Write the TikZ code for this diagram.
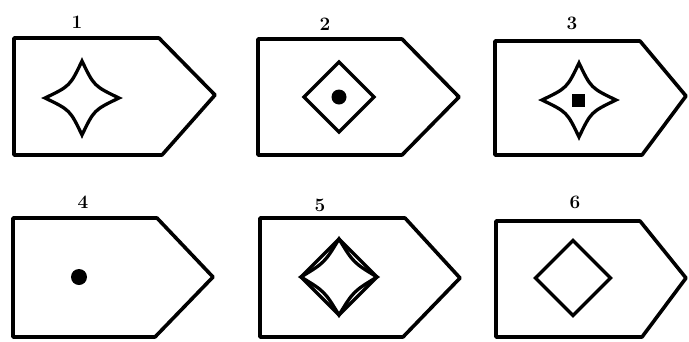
\documentclass[tikz,border=0pt]{standalone}
\usepackage{fontspec}
\begin{document}
\begin{tikzpicture}[x=1pt,y=-1pt,
  frame/.style={line width=3.6pt,line join=round,black},
  figline/.style={line width=3.3pt,black,miter limit=6},
  lbl/.style={font=\fontsize{19}{19}\selectfont\bfseries,inner sep=0pt}]
\useasboundingbox[fill=white] (0,0) rectangle (689,341);
% pentagon frames
\draw[frame] (14,38) -- (159,38) -- (215,95) -- (162,155) -- (14,155) -- cycle;
\draw[frame] (258,39) -- (402,39) -- (459,97) -- (402,155) -- (258,155) -- cycle;
\draw[frame] (495,41) -- (640,41) -- (686,96) -- (642,155) -- (495,155) -- cycle;
\draw[frame] (13,218) -- (157,218) -- (213,277) -- (155,337) -- (13,337) -- cycle;
\draw[frame] (260,218) -- (405,218) -- (460,278) -- (403,337) -- (260,337) -- cycle;
\draw[frame] (496,221) -- (640,221) -- (686,278) -- (642,337) -- (496,337) -- cycle;
% labels
\node[lbl] (l1) at (77,22) {1};
\node[lbl] (l2) at (325,24) {2};
\node[lbl] (l3) at (572,23) {3};
\node[lbl] (l4) at (83,202) {4};
\node[lbl] (l5) at (320,205) {5};
\node[lbl] (l6) at (575,202) {6};
% panel 1: four-pointed star (centre 82,98; r 37)
\draw[figline] (82,61) .. controls (94,86) and (94,86) .. (119,98)
  .. controls (94,110) and (94,110) .. (82,135)
  .. controls (70,110) and (70,110) .. (45,98)
  .. controls (70,86) and (70,86) .. cycle;
% panel 2: diamond with dot
\draw[figline] (339,62) -- (374,97) -- (339,132) -- (304,97) -- cycle;
\fill (339,97) circle (7.5);
% panel 3: star with square (centre 579,100; r 37)
\draw[figline] (579,63) .. controls (591,88) and (591,88) .. (616,100)
  .. controls (591,112) and (591,112) .. (579,137)
  .. controls (567,112) and (567,112) .. (542,100)
  .. controls (567,88) and (567,88) .. cycle;
\fill (572,93.5) rectangle (585,106.5);
% panel 4: dot
\fill (79,277) circle (8);
% panel 5: diamond with inscribed star
\draw[figline] (339,239) -- (377,277) -- (339,315) -- (301,277) -- cycle;
\draw[figline] (339,239) .. controls (353.4,262.6) and (353.4,262.6) .. (377,277)
  .. controls (353.4,291.4) and (353.4,291.4) .. (339,315)
  .. controls (324.6,291.4) and (324.6,291.4) .. (301,277)
  .. controls (324.6,262.6) and (324.6,262.6) .. cycle;
% panel 6: diamond
\draw[figline] (573,240.5) -- (610.5,278) -- (573,315.5) -- (535.5,278) -- cycle;
\end{tikzpicture}
\end{document}
